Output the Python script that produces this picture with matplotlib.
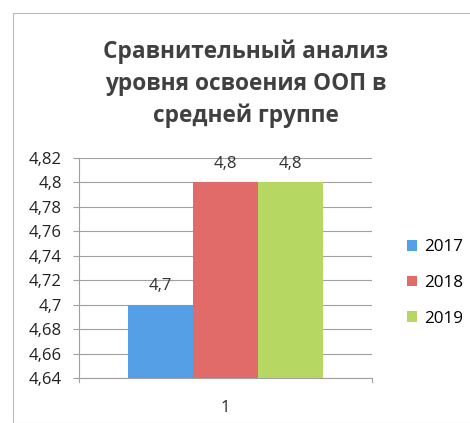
import matplotlib
matplotlib.use("Agg")
import matplotlib.pyplot as plt
from matplotlib.ticker import FixedLocator, FuncFormatter
from matplotlib.patches import Rectangle

title = "Сравнительный анализ\nуровня освоения ООП в\nсредней группе"
series = ["2017", "2018", "2019"]
values = [4.7, 4.8, 4.8]
value_labels = ["4,7", "4,8", "4,8"]
category = "1"
y_ticks = [4.64, 4.66, 4.68, 4.70, 4.72, 4.74, 4.76, 4.78, 4.80, 4.82]
colors = ["#559FE6", "#E06B69", "#B7D763"]

plt.rcParams['font.family'] = ['Open Sans', 'DejaVu Sans']

fig = plt.figure(figsize=(4.7, 4.23), dpi=100)
fig.patch.set_facecolor("white")
fig.patches.append(Rectangle((13/470, 0.0), 1.0, 1 - 13/423, transform=fig.transFigure,
                             fill=False, edgecolor="#BBBBBB", linewidth=0.8))

ax = fig.add_axes([79/470, 1 - 378/423, (372 - 79)/470, (378 - 158)/423])
bw = 0.222
offsets = [-bw, 0, bw]
for i, (s, v) in enumerate(zip(series, values)):
    ax.bar(offsets[i], v - y_ticks[0], bottom=y_ticks[0], width=bw, color=colors[i],
           label=s, zorder=3)
    ax.text(offsets[i], v + 0.0085, value_labels[i], ha="center", va="bottom",
            fontsize=12, color="#333333")

ax.set_xlim(-0.5, 0.5)
ax.set_ylim(y_ticks[0], y_ticks[-1])
ax.yaxis.set_major_locator(FixedLocator(y_ticks))
ax.yaxis.set_major_formatter(FuncFormatter(lambda v, p: ("%g" % round(v, 2)).replace(".", ",")))
ax.set_xticks([0])
ax.set_xticklabels([category])
ax.grid(axis="y", color="#A0A0A0", linewidth=0.8, zorder=0)
for sp in ["top", "right"]:
    ax.spines[sp].set_visible(False)
ax.spines["left"].set_color("#A0A0A0")
ax.spines["bottom"].set_color("#A0A0A0")
ax.tick_params(axis="y", labelsize=12, length=4.3, color="#A0A0A0", labelcolor="#222222", pad=8)
ax.tick_params(axis="x", labelsize=12, length=0, labelcolor="#222222", pad=16)
for xb in [-0.5, 0.5]:
    ax.plot([xb, xb], [0, -0.02], transform=ax.get_xaxis_transform(), color="#A0A0A0",
            linewidth=0.8, clip_on=False)

fig.text(246/470, 1 - 84/423, title, ha="center", va="center", fontsize=16.3,
         fontweight="bold", color="#404040", linespacing=1.42)

leg = fig.legend(loc="center left", bbox_to_anchor=(400/470, 1 - 283/423), frameon=False,
                 fontsize=12.3, handlelength=0.6, handleheight=0.6, handletextpad=0.4,
                 labelspacing=1.15, borderaxespad=0)
fig.savefig("out.png", dpi=100)
